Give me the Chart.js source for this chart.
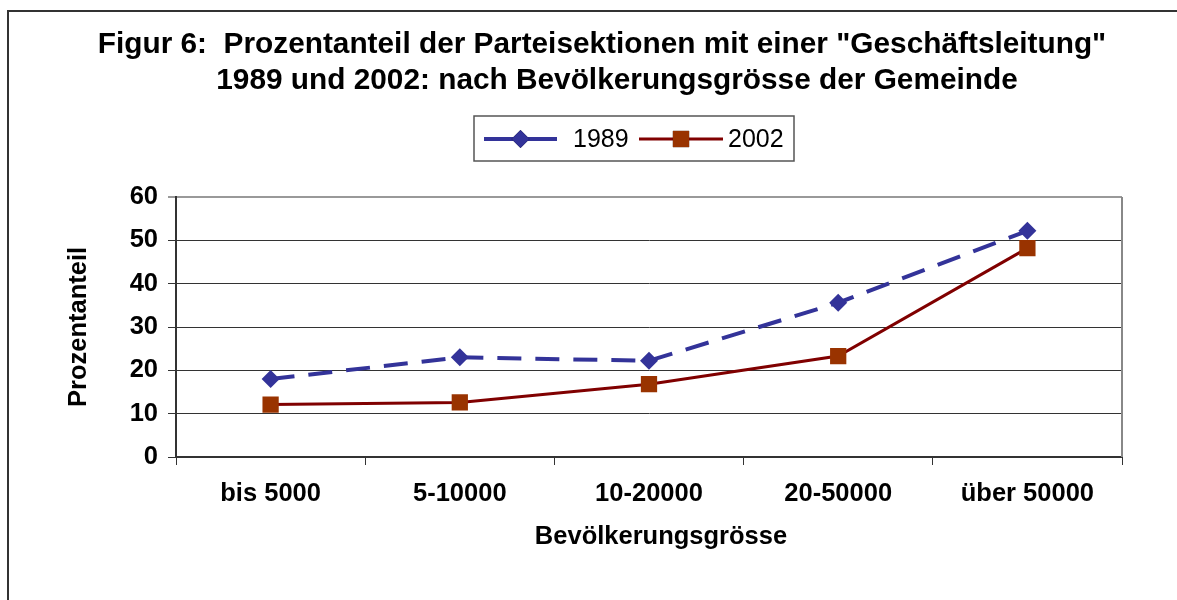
<!DOCTYPE html>
<html lang="de">
<head>
<meta charset="UTF-8">
<title>Figur 6</title>
<style>
  html, body {
    margin: 0;
    padding: 0;
    background: #fff;
    overflow: hidden;
  }
  .frame {
    position: absolute;
    left: 7px;
    top: 10px;
    width: 1200px;
    height: 620px;
    border-left: 2px solid #333;
    border-top: 2px solid #333;
    box-sizing: border-box;
  }
  .wrap {
    position: absolute;
    left: 0;
    top: 0;
    width: 1177px;
    height: 600px;
  }
</style>
<script src="https://cdn.jsdelivr.net/npm/chart.js"></script>
</head>
<body>
<div class="frame"></div>
<div class="wrap"><canvas id="chart" width="1177" height="600"></canvas></div>

<script>
const categories = ['bis 5000', '5-10000', '10-20000', '20-50000', 'über 50000'];
const values1989 = [18, 23, 22.2, 35.6, 52.2];
const values2002 = [12.1, 12.6, 16.8, 23.3, 48.2];
const yTicks = [0, 10, 20, 30, 40, 50, 60];

const titleLines = ['Figur 6:  Prozentanteil der Parteisektionen mit einer "Geschäftsleitung"',
                    '1989 und 2002: nach Bevölkerungsgrösse der Gemeinde'];
const xTitle = 'Bevölkerungsgrösse';

const FONT = "'Liberation Sans', Arial, sans-serif";

// title, x axis title, legend box like the Excel one, plus the grey right border of the plot
const excelDecor = {
  id: 'excelDecor',
  afterDraw(chart) {
    const ctx = chart.ctx;
    const area = chart.chartArea;
    ctx.save();

    ctx.fillStyle = '#000';
    ctx.font = 'bold 29.8px ' + FONT;
    ctx.textAlign = 'center';
    ctx.textBaseline = 'middle';
    ctx.fillText(titleLines[0], 602, 45);
    ctx.fillText(titleLines[1], 617, 81);

    ctx.font = 'bold 25.5px ' + FONT;
    ctx.fillText(xTitle, 661, 537);

    ctx.strokeStyle = '#888';
    ctx.lineWidth = 2;
    ctx.beginPath();
    ctx.moveTo(area.right, area.top);
    ctx.lineTo(area.right, area.bottom);
    ctx.stroke();

    ctx.strokeStyle = '#555';
    ctx.lineWidth = 1.5;
    ctx.strokeRect(474, 116, 320, 45);

    const cy = 139;
    const items = [
      { x1: 484, x2: 557, text: 573 },
      { x1: 639, x2: 723, text: 728 }
    ];
    chart.data.datasets.forEach((ds, i) => {
      const it = items[i];
      ctx.strokeStyle = ds.borderColor;
      ctx.lineWidth = ds.borderWidth;
      ctx.setLineDash([]);
      ctx.beginPath();
      ctx.moveTo(it.x1, cy);
      ctx.lineTo(it.x2, cy);
      ctx.stroke();
      Chart.helpers.drawPoint(ctx, {
        pointStyle: ds.pointStyle,
        radius: ds.pointRadius,
        borderWidth: 0
      }, (it.x1 + it.x2) / 2, cy);
      ctx.fillStyle = ds.pointBackgroundColor;
      ctx.fill();
      ctx.fillStyle = '#000';
      ctx.font = '25px ' + FONT;
      ctx.textBaseline = 'middle';
      ctx.textAlign = 'left';
      ctx.fillText(ds.label, it.text, cy + 1);
    });
    ctx.restore();
  }
};

const chart = new Chart(document.getElementById('chart'), {
  type: 'line',
  data: {
    labels: categories,
    datasets: [
      {
        label: '1989',
        data: values1989,
        borderColor: '#333399',
        borderWidth: 4,
        borderDash: [24, 14],
        pointStyle: 'rectRot',
        pointRadius: 9,
        pointBackgroundColor: '#333399',
        pointBorderWidth: 0,
        tension: 0
      },
      {
        label: '2002',
        data: values2002,
        borderColor: '#800000',
        borderWidth: 3,
        pointStyle: 'rect',
        pointRadius: 11.5,
        pointBackgroundColor: '#993300',
        pointBorderWidth: 0,
        tension: 0
      }
    ]
  },
  options: {
    responsive: false,
    animation: false,
    layout: { padding: { top: 197, left: 0, right: 55, bottom: 0 } },
    plugins: {
      legend: { display: false },
      tooltip: { enabled: false },
      title: { display: false }
    },
    scales: {
      x: {
        offset: true,
        afterFit(scale) { scale.height = 143; },
        grid: {
          offset: true,
          drawOnChartArea: false,
          drawTicks: true,
          tickLength: 8,
          color: '#333'
        },
        border: { color: '#333', width: 2 },
        ticks: {
          color: '#000',
          padding: 14,
          font: { family: FONT, size: 25.5, weight: 'bold' }
        }
      },
      y: {
        min: 0,
        max: 60,
        afterFit(scale) { scale.width = 176; },
        afterBuildTicks(scale) { scale.ticks = yTicks.map(v => ({ value: v })); },
        grid: {
          color: ctx => (ctx.tick && ctx.tick.value === 60) ? '#999' : '#333',
          lineWidth: ctx => (ctx.tick && ctx.tick.value === 60) ? 2 : 1,
          tickLength: 8
        },
        border: { color: '#333', width: 2 },
        ticks: {
          color: '#000',
          padding: 10,
          font: { family: FONT, size: 25.5, weight: 'bold' }
        },
        title: {
          display: true,
          text: 'Prozentanteil',
          color: '#000',
          font: { family: FONT, size: 25.5, weight: 'bold' },
          padding: { top: 64 }
        }
      }
    }
  },
  plugins: [excelDecor]
});
</script>
</body>
</html>
